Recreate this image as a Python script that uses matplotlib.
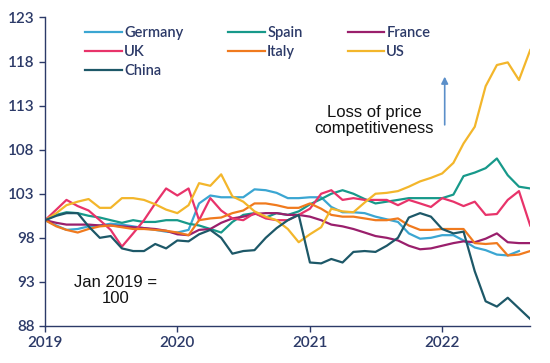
import numpy as np
import pandas as pd
import matplotlib
matplotlib.use("Agg")
import matplotlib.pyplot as plt
import matplotlib.dates as mdates

months = pd.date_range("2019-01-01", periods=45, freq="MS")

germany = [100, 99.4, 98.9, 99.0, 99.3, 99.4, 99.6, 99.5, 99.3, 99.1, 98.9, 98.7,
           98.6, 98.9, 101.9, 102.8, 102.6, 102.6, 102.6, 103.5, 103.4, 103.1, 102.5, 102.5,
           102.6, 102.6, 101.5, 100.9, 100.9, 100.8, 100.4, 100.1, 99.8, 98.5, 97.9, 98.0,
           98.3, 98.3, 97.7, 96.9, 96.6, 96.1, 96.0, 96.5]
spain = [100, 100.6, 100.9, 100.8, 100.5, 100.3, 100.0, 99.7, 100.0, 99.8, 99.8, 100.0,
         100.0, 99.6, 99.4, 99.0, 98.6, 99.8, 100.6, 100.8, 100.3, 100.8, 100.6, 101.0,
         101.8, 102.4, 103.0, 103.4, 103.0, 102.4, 101.9, 102.1, 102.3, 102.5, 102.5, 102.5,
         102.5, 102.9, 105.0, 105.4, 105.9, 107.0, 105.1, 103.8, 103.6]
france = [100, 99.7, 99.5, 99.5, 99.5, 99.4, 99.4, 99.3, 99.2, 99.1, 99.0, 98.8,
          98.4, 98.3, 98.9, 99.0, 99.7, 100.2, 100.4, 100.7, 100.8, 100.8, 100.6, 100.6,
          100.4, 100.0, 99.5, 99.3, 99.0, 98.6, 98.2, 98.0, 97.7, 97.1, 96.7, 96.8,
          97.1, 97.4, 97.6, 97.5, 97.9, 98.5, 97.5, 97.4, 97.4]
uk = [100, 101.2, 102.3, 101.6, 101.1, 100.0, 98.9, 97.0, 98.5, 100.0, 101.9, 103.6,
      102.8, 103.6, 100.0, 102.5, 101.1, 100.2, 100.0, 100.8, 100.2, 100.0, 100.0, 100.6,
      101.3, 103.0, 103.4, 102.3, 102.5, 102.3, 102.3, 102.3, 101.7, 102.3, 101.9, 101.5,
      102.5, 102.1, 101.6, 102.1, 100.6, 100.7, 102.3, 103.3, 99.4]
italy = [100, 99.3, 98.9, 98.6, 99.0, 99.3, 99.4, 99.2, 99.0, 99.0, 98.9, 98.8,
         98.6, 98.3, 100.0, 100.2, 100.3, 100.8, 101.1, 101.9, 101.9, 101.7, 101.4, 101.4,
         101.9, 101.3, 100.6, 100.4, 100.4, 100.2, 100.0, 100.0, 100.2, 99.4, 98.9, 98.9,
         99.0, 99.0, 99.0, 97.4, 97.3, 97.4, 96.0, 96.1, 96.5]
us = [100, 100.8, 101.7, 102.1, 102.4, 101.4, 101.4, 102.5, 102.5, 102.3, 101.8, 101.2,
      100.8, 101.7, 104.2, 103.9, 105.2, 102.7, 102.1, 101.0, 100.4, 100.0, 99.0, 97.5,
      98.4, 99.2, 101.3, 101.0, 100.9, 102.0, 103.0, 103.1, 103.3, 103.8, 104.4, 104.8,
      105.3, 106.5, 108.7, 110.6, 115.2, 117.6, 117.9, 115.9, 119.3]
china = [100, 100.5, 100.8, 100.8, 99.3, 98.0, 98.2, 96.8, 96.5, 96.5, 97.3, 96.8,
         97.7, 97.6, 98.4, 98.9, 98.0, 96.2, 96.5, 96.6, 98.0, 99.1, 100.0, 100.6,
         95.2, 95.1, 95.6, 95.2, 96.4, 96.5, 96.4, 97.1, 98.0, 100.3, 100.8, 100.4,
         99.0, 98.5, 98.7, 94.2, 90.8, 90.2, 91.2, 90.0, 88.8]

series = [
    ("Germany", germany, "#3ba6d2"),
    ("Spain", spain, "#17998a"),
    ("France", france, "#9a1f6c"),
    ("UK", uk, "#e8336a"),
    ("Italy", italy, "#f07a1e"),
    ("US", us, "#f3b62b"),
    ("China", china, "#1d5868"),
]

navy = "#2c3a68"
plt.rcParams["font.family"] = ["Lato", "DejaVu Sans"]

fig = plt.figure(figsize=(5.5, 3.63), dpi=100)
ax = fig.add_axes([0.082, 0.102, 0.882, 0.850])

lines = {}
for name, vals, col in series:
    ln, = ax.plot(months[:len(vals)], vals, color=col, lw=1.6, label=name)
    lines[name] = ln

ax.set_ylim(88, 123)
ax.set_yticks(np.arange(88, 124, 5))
ax.set_xlim(months[0], months[-1])
ax.xaxis.set_major_locator(mdates.YearLocator())
ax.xaxis.set_major_formatter(mdates.DateFormatter("%Y"))

for s in ["top", "right"]:
    ax.spines[s].set_visible(False)
for s in ["left", "bottom"]:
    ax.spines[s].set_color(navy)
    ax.spines[s].set_linewidth(1.0)
ax.tick_params(colors=navy, labelsize=11, length=4, width=1.0)
for lab in ax.get_xticklabels() + ax.get_yticklabels():
    lab.set_color(navy)
    lab.set_fontweight("semibold")

order = ["Germany", "UK", "China", "Spain", "Italy", "France", "US"]
leg = ax.legend([lines[n] for n in order], order, ncol=3, loc="upper left",
                bbox_to_anchor=(0.065, 1.0), frameon=False,
                prop={"size": 10.5, "weight": "semibold"},
                handlelength=2.5, handletextpad=0.15, columnspacing=3.1,
                labelspacing=0.33, borderaxespad=0.2)
for t in leg.get_texts():
    t.set_color(navy)

ax.text(pd.Timestamp("2021-06-28"), 111.3, "Loss of price\ncompetitiveness",
        ha="center", va="center", fontsize=12, family="Liberation Sans",
        linespacing=1.1, color="#111111")
ax.annotate("", xy=(pd.Timestamp("2022-01-08"), 116.6),
            xytext=(pd.Timestamp("2022-01-08"), 110.5),
            arrowprops=dict(arrowstyle="-|>", color="#5b8fc9", lw=1.2,
                            mutation_scale=10))
ax.text(pd.Timestamp("2019-07-15"), 92.0, "Jan 2019 =\n100",
        ha="center", va="center", fontsize=12, family="Liberation Sans",
        linespacing=1.1, color="#111111")

fig.savefig("out.png", dpi=100)
